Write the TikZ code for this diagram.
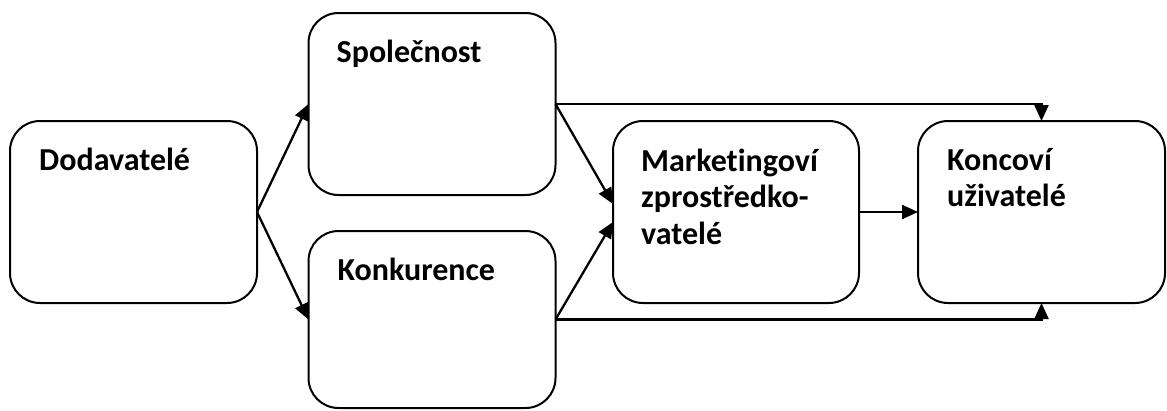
\documentclass[tikz,border=0pt]{standalone}
\usepackage{fontspec}
\setmainfont{Carlito}[Ligatures={NoCommon}]
\usetikzlibrary{arrows.meta,calc}

\tikzset{
  box/.style={draw=black, line width=2pt, rounded corners=30pt,
    minimum width=#1, inner sep=0pt, outer sep=0pt},
  box/.default={247pt},
  lbl/.style={anchor=base west, inner sep=0pt, text width=220pt, align=left,
    font=\fontsize{32}{36.5}\selectfont\bfseries},
  conn/.style={line width=2.3pt, -{Triangle[length=16pt,width=14pt]}},
}

\begin{document}
\begin{tikzpicture}[x=1pt,y=-1pt]
  \useasboundingbox (0,0) rectangle (1167,410);

  % boxes (positioned by centre, sized in pt)
  \node[box, minimum height=182pt] (dod)  at (133.5,212) {};
  \node[box, minimum height=182pt] (spol) at (432,104) {};
  \node[box, minimum height=177pt] (konk) at (432,319.5) {};
  \node[box=246pt, minimum height=182pt] (mkt)  at (736,212) {};
  \node[box, minimum height=182pt] (konc) at (1041.5,212) {};

  % labels, first baseline fixed below each box's top-left corner
  \node[lbl] (tdod)  at ($(dod.north west)+(29,49)$)  {Dodavatelé};
  \node[lbl] (tspol) at ($(spol.north west)+(28,49)$) {Společnost};
  \node[lbl] (tkonk) at ($(konk.north west)+(29,49)$) {Konkurence};
  \node[lbl] (tmkt)  at ($(mkt.north west)+(28,50)$)  {Marketingoví\\zprostředko-\\vatelé};
  \node[lbl] (tkonc) at ($(konc.north west)+(29,49)$) {Koncoví\\uživatelé};

  % connectors
  \draw[conn] (dod.east) -- (spol.west);
  \draw[conn] (dod.east) -- (konk.west);
  \draw[conn] (spol.east) -- ($(mkt.west)+(0,-8)$);
  \draw[conn] (konk.east) -- ($(mkt.west)+(0,10)$);
  \draw[conn] (mkt.east) -- (konc.west);
  \draw[conn] (spol.east) -| (konc.north);
  \draw[conn] (konk.east) -| (konc.south);
\end{tikzpicture}
\end{document}
